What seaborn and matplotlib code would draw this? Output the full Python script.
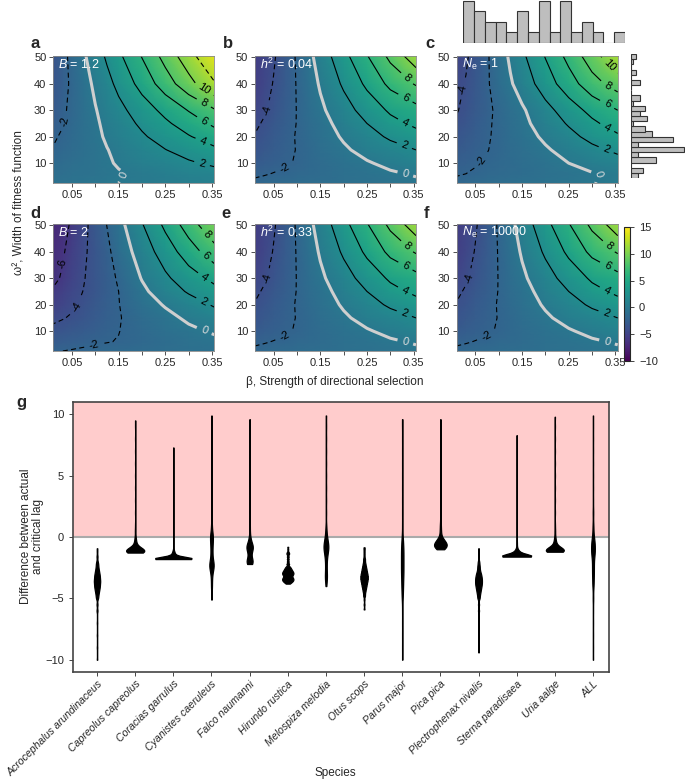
import numpy as np
import pandas as pd
import matplotlib
matplotlib.use('Agg')
import matplotlib.pyplot as plt
import seaborn as sns

sns.set_style('ticks')
plt.rcParams['font.family'] = ['Liberation Sans', 'DejaVu Sans']
plt.rcParams['mathtext.fontset'] = 'custom'
plt.rcParams['mathtext.rm'] = 'Liberation Sans'
plt.rcParams['mathtext.it'] = 'Liberation Sans:italic'

# ---- lag surfaces (actual - critical lag) ----
beta_cols = [0.01, 0.03, 0.05, 0.075, 0.1, 0.125, 0.15, 0.2, 0.25, 0.3, 0.355]
omega_rows = [2.5, 6, 10, 15, 20, 25, 30, 40, 50.5]

z_b12 = [  # B = 1.2
    [-0.7, -0.6, -0.5, -0.37, -0.25, -0.12, 0.0, 0.2, 0.4, 0.6, 0.8],
    [-1.1, -0.95, -0.8, -0.63, -0.45, -0.28, -0.1, 0.25, 0.6, 0.95, 1.3],
    [-1.4, -1.2, -0.95, -0.7, -0.43, -0.15, 0.12, 0.65, 1.2, 1.75, 2.35],
    [-1.9, -1.55, -1.25, -0.85, -0.45, -0.05, 0.35, 1.15, 1.95, 2.75, 3.6],
    [-2.2, -1.8, -1.4, -0.85, -0.35, 0.2, 0.7, 1.75, 2.8, 3.85, 5.0],
    [-2.6, -2.1, -1.55, -0.9, -0.25, 0.4, 1.05, 2.35, 3.65, 4.95, 6.4],
    [-2.9, -2.25, -1.65, -0.85, -0.1, 0.7, 1.45, 3.0, 4.55, 6.1, 7.8],
    [-3.35, -2.55, -1.7, -0.7, 0.35, 1.4, 2.5, 4.7, 7.0, 9.3, 11.8],
    [-3.6, -2.55, -1.5, -0.25, 1.0, 2.3, 3.6, 6.1, 8.7, 11.2, 14.0],
]
z_default = [  # h2 = 0.04, h2 = 0.33, Ne = 10000
    [-1.7, -1.6, -1.5, -1.4, -1.3, -1.2, -1.1, -0.9, -0.7, -0.5, -0.3],
    [-2.25, -2.1, -1.95, -1.8, -1.6, -1.45, -1.25, -0.9, -0.55, -0.2, 0.15],
    [-2.9, -2.65, -2.4, -2.15, -1.9, -1.6, -1.3, -0.7, -0.15, 0.4, 1.0],
    [-3.5, -3.1, -2.7, -2.3, -1.95, -1.55, -1.1, -0.25, 0.55, 1.25, 2.0],
    [-3.9, -3.4, -2.9, -2.4, -1.9, -1.35, -0.85, 0.2, 1.25, 2.3, 3.3],
    [-4.3, -3.8, -3.2, -2.6, -1.95, -1.3, -0.65, 0.65, 2.0, 3.4, 4.4],
    [-4.8, -4.2, -3.55, -2.75, -1.95, -1.15, -0.35, 1.2, 2.8, 4.3, 5.3],
    [-5.4, -4.7, -3.9, -2.9, -1.9, -0.9, 0.2, 2.3, 4.4, 6.5, 8.2],
    [-5.6, -4.9, -4.2, -3.0, -1.8, -0.5, 0.8, 3.4, 5.9, 8.5, 11.3],
]
z_ne1 = [  # Ne = 1
    [-1.6, -1.5, -1.4, -1.25, -1.1, -0.95, -0.8, -0.55, -0.3, -0.05, 0.3],
    [-2.15, -2.0, -1.85, -1.6, -1.45, -1.3, -1.15, -0.8, -0.45, -0.1, 0.3],
    [-2.5, -2.3, -2.1, -1.85, -1.6, -1.35, -1.1, -0.55, 0.0, 0.6, 1.2],
    [-3.0, -2.7, -2.4, -2.05, -1.7, -1.3, -0.95, -0.2, 0.6, 1.5, 2.4],
    [-3.4, -3.0, -2.6, -2.15, -1.7, -1.2, -0.7, 0.3, 1.4, 2.6, 3.7],
    [-3.8, -3.3, -2.85, -2.25, -1.65, -1.05, -0.45, 0.8, 2.2, 3.6, 4.9],
    [-4.1, -3.6, -3.05, -2.35, -1.65, -0.95, -0.25, 1.35, 3.0, 4.6, 6.0],
    [-4.4, -3.9, -3.2, -2.2, -1.2, -0.2, 0.8, 3.0, 5.1, 7.2, 8.9],
    [-5.0, -4.2, -3.4, -2.2, -1.0, 0.3, 1.6, 4.1, 6.6, 9.1, 11.8],
]
z_b2 = [  # B = 2
    [-2.1, -2.0, -1.9, -1.8, -1.7, -1.6, -1.5, -1.3, -1.1, -0.9, -0.7],
    [-2.9, -2.7, -2.5, -2.3, -2.15, -2.05, -1.95, -1.6, -1.2, -0.8, -0.4],
    [-3.5, -3.3, -3.1, -2.8, -2.5, -2.25, -2.03, -1.45, -0.9, -0.35, 0.2],
    [-4.4, -4.1, -3.8, -3.35, -2.9, -2.45, -2.1, -1.3, -0.5, 0.3, 1.1],
    [-5.2, -4.75, -4.3, -3.7, -3.1, -2.55, -2.05, -0.85, 0.15, 1.15, 2.2],
    [-5.8, -5.2, -4.6, -3.95, -3.3, -2.6, -2.0, -0.4, 1.0, 2.2, 3.4],
    [-6.4, -5.8, -5.0, -4.1, -3.3, -2.6, -1.8, 0.1, 1.65, 3.1, 4.5],
    [-6.7, -6.2, -5.3, -4.3, -3.3, -2.4, -1.2, 0.9, 2.95, 5.0, 7.2],
    [-7.2, -6.6, -5.75, -4.5, -3.2, -1.95, -0.65, 1.9, 4.45, 7.0, 9.8],
]

panel_letters = ['a', 'b', 'c', 'd', 'e', 'f']
panel_texts = [r'$B$ = 1.2', r'$h^2$ = 0.04', r'$N_\mathrm{e}$ = 1',
               r'$B$ = 2', r'$h^2$ = 0.33', r'$N_\mathrm{e}$ = 10000']
panel_surfaces = [z_b12, z_default, z_ne1, z_b2, z_default, z_default]

# marginal histograms of the empirical estimates
beta_bin_counts = [4, 3, 2, 2, 1, 3, 1, 4, 1, 4, 1, 2, 1, 0, 1]
omega_bin_counts = [3, 5, 0, 11, 3, 23, 3, 18, 9, 6, 1, 7, 4, 6, 1, 4, 0, 0, 4, 0, 2, 0, 1, 2]

# ---- panel g: distribution of lag differences per species ----
species = ['Acrocephalus arundinaceus', 'Capreolus capreolus', 'Coracias garrulus',
           'Cyanistes caeruleus', 'Falco naumanni', 'Hirundo rustica',
           'Melospiza melodia', 'Otus scops', 'Parus major', 'Pica pica',
           'Plectrophenax nivalis', 'Sterna paradisaea', 'Uria aalge', 'ALL']

acro_vals = [-10, -9, -8, -7, -6, -5.5, -5, -4.8, -4.6, -4.4, -4.2, -4.0, -3.8, -3.6, -3.4,
             -3.2, -3.0, -2.8, -2.6, -2.4, -2.2, -2.0, -1.6, -1.2, -0.92]
acro_cnts = [1, 1, 1, 1, 2, 2, 3, 3, 4, 5, 6, 7, 7, 8, 7, 7, 6, 5, 4, 3, 3, 2, 2, 1, 1]
capr_vals = [-1.27, -1.2, -1.1, -1.0, -0.9, -0.8, -0.6, -0.4, -0.2, 0, 0.5, 1, 2, 3, 4, 5, 6, 7, 8, 9, 9.5]
capr_cnts = [16, 20, 17, 12, 9, 6, 4, 3, 2, 2, 2, 1, 1, 1, 1, 1, 1, 1, 1, 1, 1]
cora_vals = [-1.8, -1.75, -1.7, -1.6, -1.5, -1.4, -1.3, -1.2, -1.1, -1.0, -0.5, 0, 1, 2, 3, 4, 5, 6, 7, 7.3]
cora_cnts = [70, 60, 35, 14, 7, 5, 4, 3, 2, 1, 1, 1, 1, 1, 1, 1, 1, 1, 1, 1]
cyan_vals = [-5.1, -4.5, -4, -3.5, -3, -2.6, -2.3, -2.0, -1.6, -1.2, -0.8, -0.4, 0, 0.4, 1, 2, 3, 4, 5, 6, 7, 8, 9, 9.9]
cyan_cnts = [1, 1, 2, 2, 3, 5, 6, 5, 3, 3, 3, 4, 5, 3, 2, 1, 1, 1, 1, 1, 1, 1, 1, 1]
falc_vals = [-2.2, -2.0, -1.8, -1.6, -1.4, -1.2, -1.0, -0.8, -0.6, -0.3, 0, 0.5, 1, 2, 3, 4, 5, 6, 7, 8, 9, 9.6]
falc_cnts = [6, 7, 4, 2, 2, 3, 5, 7, 5, 3, 2, 1, 1, 1, 1, 1, 1, 1, 1, 1, 1, 1]
hiru_vals = [-3.8, -3.7, -3.6, -3.5, -3.4, -3.3, -3.2, -3.1, -3.0, -2.9, -2.8, -2.7, -2.6,
             -2.5, -2.4, -2.2, -2.0, -1.8, -1.6, -1.4, -1.3, -1.2, -1.0, -0.8]
hiru_cnts = [3, 5, 7, 8, 8, 7, 6, 7, 8, 8, 7, 6, 5, 4, 3, 3, 2, 2, 2, 2, 2, 1, 1, 1]
melo_vals = [-4, -3.6, -3.2, -2.8, -2.4, -2.0, -1.6, -1.2, -0.8, -0.4, 0, 0.5, 1, 2, 3, 4, 5, 6, 7, 8, 9, 9.9]
melo_cnts = [1, 2, 3, 2, 2, 2, 3, 5, 7, 5, 3, 2, 1, 1, 1, 1, 1, 1, 1, 1, 1, 1]
otus_vals = [-5.9, -5.5, -5.1, -4.8, -4.6, -4.4, -4.2, -4.0, -3.8, -3.6, -3.4, -3.2, -3.0,
             -2.8, -2.6, -2.4, -2.2, -2.0, -1.8, -1.6, -1.4, -1.2, -1.0, -0.84]
otus_cnts = [1, 1, 1, 2, 2, 3, 4, 5, 6, 7, 8, 8, 7, 6, 5, 4, 3, 2, 2, 1, 1, 1, 1, 1]
paru_vals = [-10, -9, -8, -7, -6, -5, -4.5, -4, -3.5, -3, -2.5, -2, -1.5, -1, -0.5, 0, 1, 2, 3, 4, 5, 6, 7, 8, 9, 9.6]
paru_cnts = [1, 1, 1, 1, 1, 2, 2, 3, 3, 4, 4, 4, 4, 4, 3, 2, 1, 1, 1, 1, 1, 1, 1, 1, 1, 1]
pica_vals = [-1.0, -0.9, -0.8, -0.7, -0.6, -0.5, -0.4, -0.3, -0.2, -0.1, 0, 0.3, 0.6, 1,
             1.5, 2, 3, 4, 5, 6, 7, 8, 9, 9.6]
pica_cnts = [4, 6, 7, 7, 7, 6, 5, 4, 3, 2, 2, 2, 2, 2, 1, 1, 1, 1, 1, 1, 1, 1, 1, 1]
plec_vals = [-9.4, -8.5, -7.5, -6.5, -6, -5.5, -5.0, -4.8, -4.6, -4.4, -4.2, -4.0, -3.8,
             -3.6, -3.4, -3.2, -3.0, -2.8, -2.6, -2.4, -2.2, -2.0, -1.6, -1.2, -0.92]
plec_cnts = [1, 1, 1, 1, 2, 2, 3, 3, 4, 5, 6, 7, 8, 8, 8, 7, 6, 4, 3, 3, 2, 2, 1, 1, 1]
ster_vals = [-1.6, -1.55, -1.5, -1.4, -1.3, -1.2, -1.1, -1.0, -0.8, -0.5, -0.2, 0, 0.5, 1, 2, 3, 4, 5, 6, 7, 8, 8.3]
ster_cnts = [55, 45, 28, 12, 9, 7, 5, 3, 2, 2, 1, 1, 1, 1, 1, 1, 1, 1, 1, 1, 1, 1]
uria_vals = [-1.2, -1.15, -1.1, -1.0, -0.9, -0.8, -0.6, -0.4, -0.2, 0, 0.5, 1, 2, 3, 4, 5, 6, 7, 8, 9, 9.8]
uria_cnts = [13, 16, 15, 11, 9, 6, 4, 3, 2, 2, 2, 1, 1, 1, 1, 1, 1, 1, 1, 1, 1]
all_vals = [-10, -9, -8, -7, -6, -5, -4, -3.5, -3, -2.5, -2, -1.5, -1.2, -0.9, -0.6, -0.3, 0, 0.5, 1, 2, 3, 4, 5, 6, 7, 8, 9, 9.9]
all_cnts = [1, 1, 1, 1, 1, 2, 3, 3, 4, 4, 4, 5, 5, 5, 5, 4, 3, 2, 2, 2, 1, 1, 1, 1, 1, 1, 1, 1]

species_vals = [acro_vals, capr_vals, cora_vals, cyan_vals, falc_vals, hiru_vals, melo_vals,
                otus_vals, paru_vals, pica_vals, plec_vals, ster_vals, uria_vals, all_vals]
species_cnts = [acro_cnts, capr_cnts, cora_cnts, cyan_cnts, falc_cnts, hiru_cnts, melo_cnts,
                otus_cnts, paru_cnts, pica_cnts, plec_cnts, ster_cnts, uria_cnts, all_cnts]

W, H = 685, 781
fig = plt.figure(figsize=(W / 100, H / 100), dpi=100)


def px_axes(left, top, right, bottom):
    """Add axes from pixel box (origin top-left)"""
    return fig.add_axes([left / W, 1 - bottom / H, (right - left) / W, (bottom - top) / H])


def label_spots(cs, end_gap=0.1):
    """Pick a point a little before the lower end of every contour line"""
    spots = []
    scale = np.array([0.345, 48.0])
    for path in cs.get_paths():
        if len(path.vertices) == 0:
            continue
        for poly in path.to_polygons(closed_only=False):
            if len(poly) < 2:
                continue
            if poly[0, 1] < poly[-1, 1]:
                poly = poly[::-1]
            seg = np.hypot(*np.diff(poly / scale, axis=0).T)
            cum = np.concatenate([[0], np.cumsum(seg)])
            if cum[-1] < 0.15:
                continue
            target = max(cum[-1] - end_gap, 0.5 * cum[-1])
            spots.append((np.interp(target, cum, poly[:, 0]),
                          np.interp(target, cum, poly[:, 1])))
    return spots


def draw_lag_panel(ax, z, text):
    zz = np.array(z)
    mesh = ax.pcolormesh(beta_cols, omega_rows, zz, cmap='viridis', vmin=-10, vmax=15,
                         shading='gouraud', rasterized=True)
    dash = [(0, (4.5, 3))]
    neg = ax.contour(beta_cols, omega_rows, zz, levels=[-8, -6, -4, -2], colors='black',
                     linestyles=dash, linewidths=0.8)
    zero = ax.contour(beta_cols, omega_rows, zz, levels=[0], colors='#cfcfcf', linewidths=2.2)
    pos = ax.contour(beta_cols, omega_rows, zz, levels=[2, 4, 6, 8, 10], colors='black',
                     linestyles='-', linewidths=0.8)
    ax.contour(beta_cols, omega_rows, zz, levels=[12, 14], colors='black',
               linestyles=dash, linewidths=0.8)
    ax.clabel(neg, fmt='%d', fontsize=8, manual=label_spots(neg, 0.2))
    ax.clabel(zero, fmt='%d', fontsize=8, colors='#e0e0e0', manual=label_spots(zero, 0.07))
    ax.clabel(pos, fmt='%d', fontsize=8, manual=label_spots(pos, 0.08))
    ax.set_xlim(0.01, 0.355)
    ax.set_ylim(2.5, 50.5)
    ax.set_xticks([0.05, 0.1, 0.15, 0.2, 0.25, 0.3, 0.35])
    ax.set_xticklabels(['0.05', '', '0.15', '', '0.25', '', '0.35'])
    ax.set_yticks([10, 20, 30, 40, 50])
    ax.tick_params(labelsize=8, length=3, width=0.6, color='#333333', pad=2)
    for s in ax.spines.values():
        s.set_color('#888888')
        s.set_linewidth(0.6)
    ax.text(0.03, 0.93, text, transform=ax.transAxes, color='white', fontsize=9,
            ha='left', va='center')
    return mesh


lefts = [53.3, 255, 456.7]
tops = [56, 224]
letter_pos = [(35, 43), (228, 43), (430, 43), (35, 213), (226, 213), (427, 213)]
mesh = None
for i in range(6):
    left = lefts[i % 3]
    top = tops[i // 3]
    ax = px_axes(left, top, left + 161, top + 127)
    mesh = draw_lag_panel(ax, panel_surfaces[i], panel_texts[i])
    lx, ly = letter_pos[i]
    fig.text(lx / W, 1 - ly / H, panel_letters[i], fontsize=12, fontweight='bold',
             ha='center', va='center')

fig.text(20 / W, 1 - 203 / H, 'ω², Width of fitness function', rotation=90,
         fontsize=8.5, ha='center', va='center')
fig.text(335 / W, 1 - 382 / H, 'β, Strength of directional selection',
         fontsize=8.5, ha='center', va='center')

# colorbar
cax = px_axes(624.3, 227, 630, 361)
cb = fig.colorbar(mesh, cax=cax, ticks=[-10, -5, 0, 5, 10, 15])
cb.outline.set_linewidth(0.8)
cax.tick_params(labelsize=8, length=3, width=0.6)

# marginal histograms
n_beta = len(beta_bin_counts)
beta_hist = pd.DataFrame({'bin': np.arange(n_beta) + 0.5, 'count': beta_bin_counts})
ax_top = px_axes(463.3, 0, 625, 43)
sns.histplot(data=beta_hist, x='bin', weights='count', bins=n_beta, binrange=(0, n_beta),
             color='#bebebe', edgecolor='#333333', linewidth=0.8, alpha=1, ax=ax_top)
ax_top.set_xlim(0, n_beta)
ax_top.set_ylim(0, 4.05)
ax_top.axis('off')

n_omega = len(omega_bin_counts)
omega_hist = pd.DataFrame({'bin': np.arange(n_omega) + 0.5, 'count': omega_bin_counts})
ax_right = px_axes(631, 54, 685, 178)
sns.histplot(data=omega_hist, y='bin', weights='count', bins=n_omega, binrange=(0, n_omega),
             color='#bebebe', edgecolor='#333333', linewidth=0.8, alpha=1, ax=ax_right)
ax_right.set_ylim(0, n_omega)
ax_right.set_xlim(0, 23.3)
ax_right.axis('off')

# panel g
rows = []
for name, vals, cnts in zip(species, species_vals, species_cnts):
    for v, c in zip(vals, cnts):
        rows.extend([(name, v)] * c)
df = pd.DataFrame(rows, columns=['species', 'lag_diff'])

ax_g = px_axes(73, 402, 609, 672)
ax_g.axhspan(0, 11, color='#ffcccc', zorder=0, lw=0)
ax_g.axhline(0, color='#aaaaaa', lw=1.5, zorder=1)
sns.violinplot(data=df, x='species', y='lag_diff', order=species, color='black',
               linecolor='black', linewidth=0.9, inner=None, cut=0, density_norm='area',
               width=0.95, bw_method=0.1, saturation=1, ax=ax_g, zorder=3)
ax_g.set_xlim(-0.63, 13.42)
ax_g.set_ylim(-11, 11)
ax_g.set_yticks([-10, -5, 0, 5, 10])
ax_g.set_xticks(range(len(species)))
ax_g.set_xticklabels(species, rotation=45, ha='right', rotation_mode='anchor',
                     fontstyle='italic', fontsize=7.6)
ax_g.tick_params(axis='y', labelsize=8, length=3, width=0.6)
ax_g.tick_params(axis='x', length=3, width=0.6, pad=2)
ax_g.set_xlabel('')
ax_g.set_ylabel('')
for s in ax_g.spines.values():
    s.set_color('#444444')
    s.set_linewidth(1.2)
fig.text(32 / W, 1 - 536 / H, 'Difference between actual\nand critical lag', rotation=90,
         fontsize=8.5, ha='center', va='center', linespacing=1.1)
fig.text(335 / W, 1 - 773 / H, 'Species', fontsize=8.5, ha='center', va='center')
fig.text(21 / W, 1 - 403 / H, 'g', fontsize=12, fontweight='bold', ha='center', va='center')

fig.savefig('out.png', dpi=100)
